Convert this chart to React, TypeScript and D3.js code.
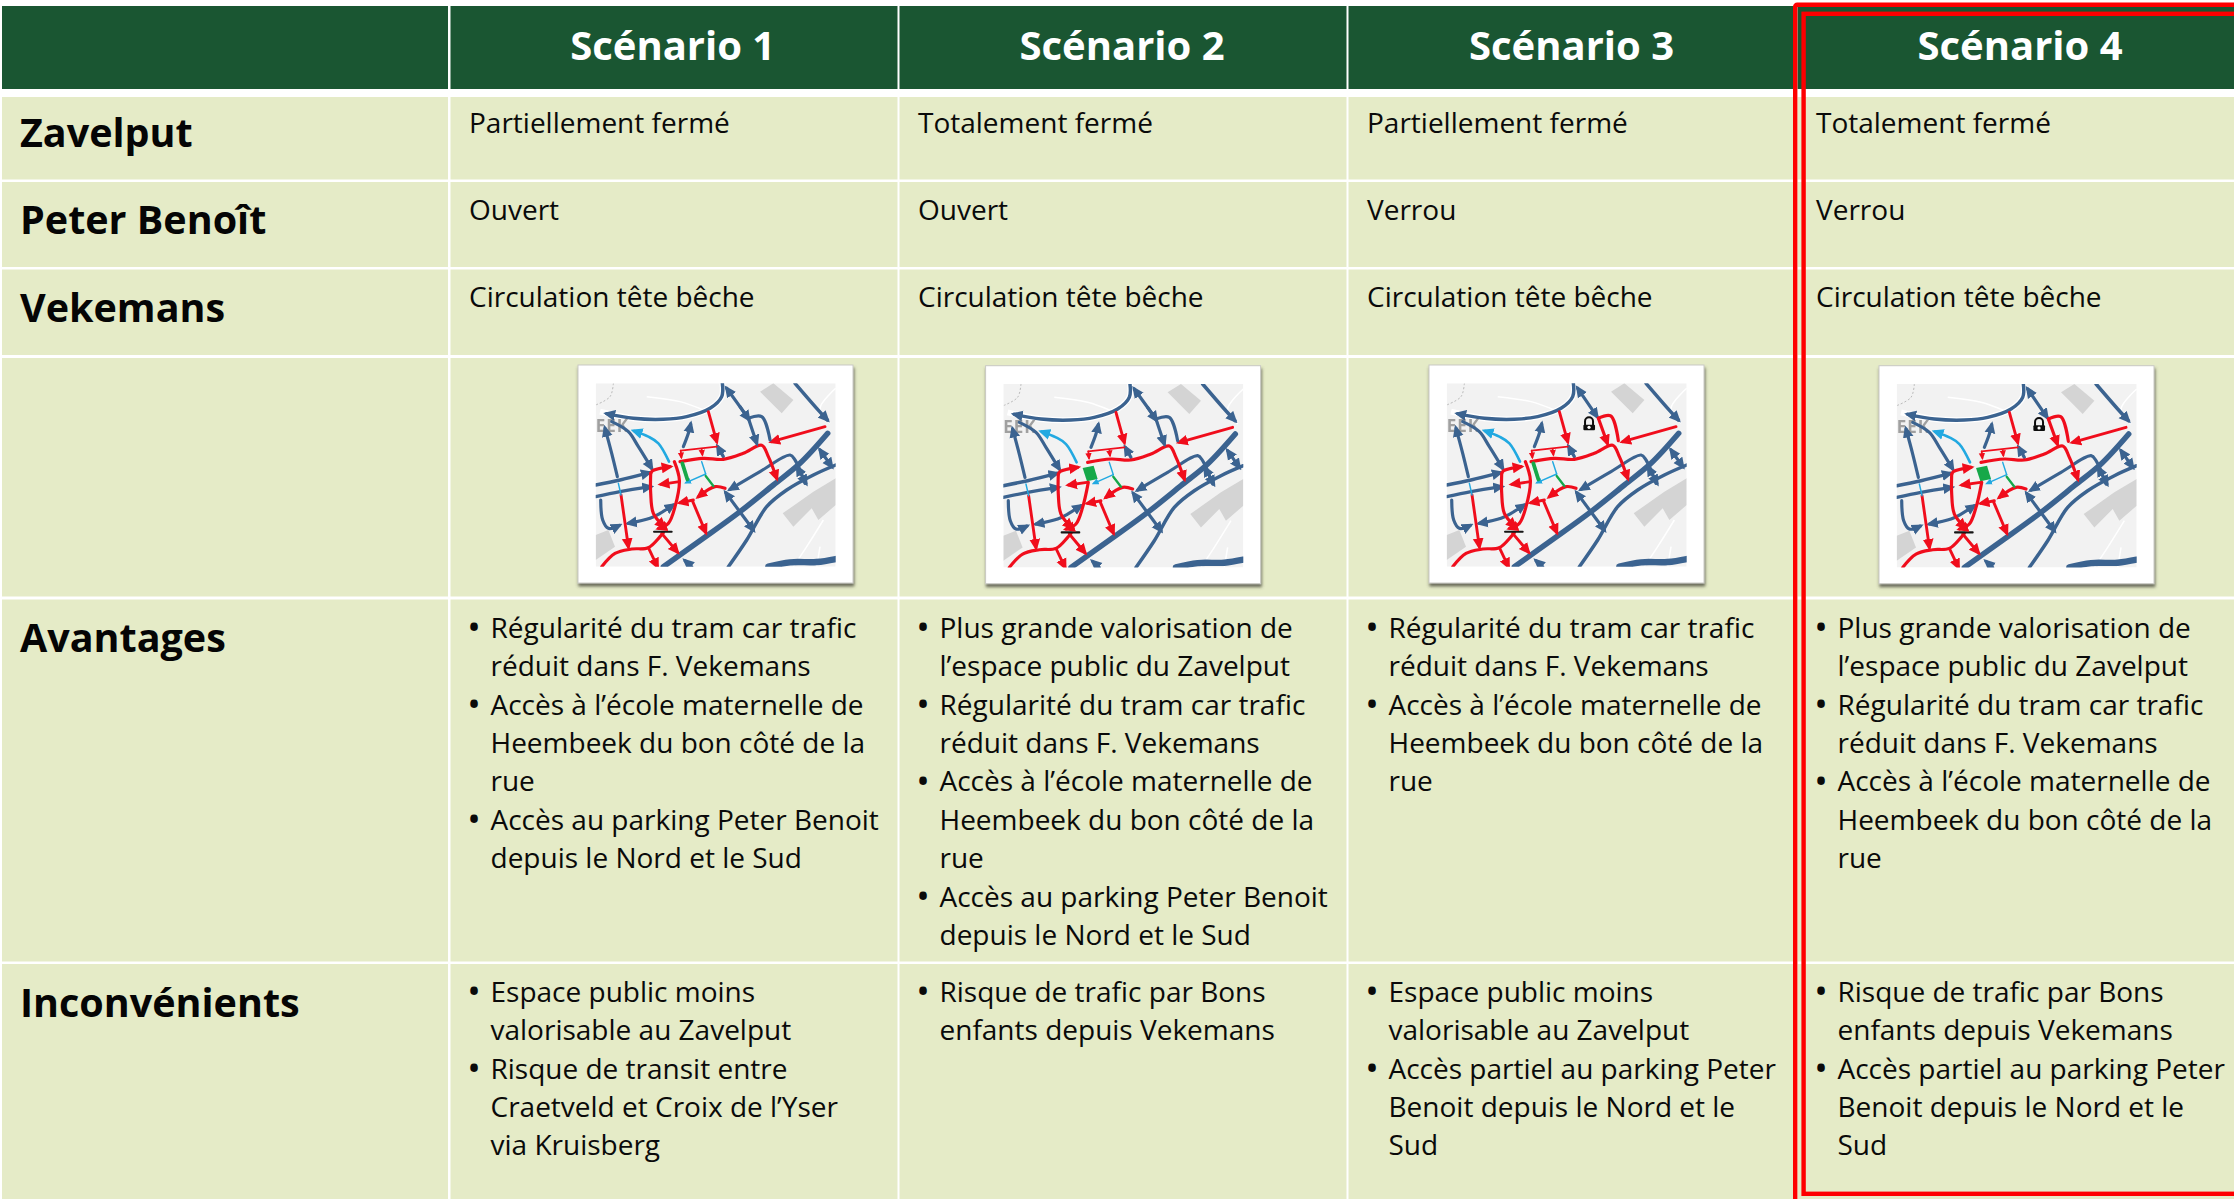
import React from 'react';
import * as d3 from 'd3';

// table content
const scenarios = ['Scénario 1', 'Scénario 2', 'Scénario 3', 'Scénario 4'];
const rowLabels = ['Zavelput', 'Peter Benoît', 'Vekemans'];
const zavelput = ['Partiellement fermé', 'Totalement fermé', 'Partiellement fermé', 'Totalement fermé'];
const peterBenoit = ['Ouvert', 'Ouvert', 'Verrou', 'Verrou'];
const vekemans = ['Circulation tête bêche', 'Circulation tête bêche', 'Circulation tête bêche', 'Circulation tête bêche'];

const regulariteTram = ['Régularité du tram car trafic', 'réduit dans F. Vekemans'];
const accesEcole = ['Accès à l’école maternelle de', 'Heembeek du bon côté de la', 'rue'];
const accesParking = ['Accès au parking Peter Benoit', 'depuis le Nord et le Sud'];
const valorisation = ['Plus grande valorisation de', 'l’espace public du Zavelput'];
const avantages = [
  [regulariteTram, accesEcole, accesParking],
  [valorisation, regulariteTram, accesEcole, accesParking],
  [regulariteTram, accesEcole],
  [valorisation, regulariteTram, accesEcole],
];

const espaceMoins = ['Espace public moins', 'valorisable au Zavelput'];
const risqueBons = ['Risque de trafic par Bons', 'enfants depuis Vekemans'];
const partielParking = ['Accès partiel au parking Peter', 'Benoit depuis le Nord et le', 'Sud'];
const inconvenients = [
  [espaceMoins, ['Risque de transit entre', 'Craetveld et Croix de l’Yser', 'via Kruisberg']],
  [risqueBons],
  [espaceMoins, partielParking],
  [risqueBons, partielParking],
];

// map roads: [colour, width, arrow at start, arrow at end, points]
type Road = [string, number, boolean, boolean, [number, number][]];
const greyBlocks: [number, number][][] = [
  [[600, 125], [640, 100], [700, 150], [665, 190]],
  [[668, 490], [760, 425], [827, 385], [827, 465], [775, 510], [755, 475], [700, 530]],
  [[107, 555], [145, 540], [165, 590], [107, 630]],
];
const whiteRoads: [number, number][][] = [
  [[487, 100], [485, 140], [450, 175], [380, 200], [310, 208], [220, 205], [120, 185]],
  [[827, 115], [780, 175], [810, 220]],
  [[260, 140], [360, 155], [430, 180]],
  [[700, 650], [740, 590], [790, 510]],
  [[770, 650], [780, 590]],
];
const sharedRoads: Road[] = [
  ['blue', 3.8, false, false, [[310, 650], [430, 565], [540, 485], [640, 405], [720, 340], [803, 250]]],
  ['blue', 2.4, false, true, [[487, 100], [485, 140], [450, 175], [380, 200], [310, 208], [220, 205], [140, 191]]],
  ['blue', 2.4, false, true, [[705, 100], [770, 175], [802, 210]]],
  ['blue', 2.4, false, true, [[107, 405], [180, 390], [268, 368]]],
  ['blue', 2.2, false, true, [[107, 440], [180, 425], [272, 410]]],
  ['blue', 2.2, false, true, [[122, 450], [128, 510], [145, 535], [178, 526]]],
  ['blue', 2.2, true, true, [[205, 520], [270, 505], [300, 490], [340, 465]]],
  ['blue', 2.2, false, true, [[172, 380], [155, 310], [135, 235]]],
  ['blue', 2.2, false, true, [[155, 215], [205, 245], [235, 290], [275, 355]]],
  ['blue', 2.2, false, true, [[370, 290], [385, 250], [392, 222]]],
  ['blue', 2.2, true, false, [[510, 418], [600, 365], [690, 315], [705, 330], [735, 400]]],
  ['blue', 2.2, true, true, [[497, 428], [580, 540]]],
  ['blue', 2.4, false, false, [[505, 650], [560, 570], [620, 470], [680, 420], [760, 375], [827, 345]]],
  ['blue', 2.2, true, true, [[780, 300], [815, 350]]],
  ['blue', 2, true, true, [[712, 352], [738, 400]]],
  ['blue', 2.2, false, true, [[395, 650], [375, 632]]],
  ['blue', 2.2, false, true, [[490, 320], [473, 290]]],
  ['blue', 4.4, false, false, [[625, 650], [690, 637], [770, 636], [827, 627]]],
  ['red', 2, false, true, [[445, 185], [470, 275]]],
  ['red', 2, false, true, [[795, 230], [635, 275]]],
  ['red', 2.2, false, true, [[360, 335], [430, 325], [490, 328], [550, 310], [605, 286], [625, 320], [650, 385]]],
  ['red', 1.2, false, false, [[362, 302], [470, 290]]],
  ['red', 1.2, false, true, [[362, 302], [364, 322]]],
  ['red', 1.2, false, true, [[425, 298], [427, 314]]],
  ['red', 2, false, true, [[358, 395], [303, 403]]],
  ['red', 2.2, false, true, [[272, 370], [278, 362], [330, 350]]],
  ['red', 2.2, false, true, [[272, 370], [272, 430], [280, 490], [312, 530]]],
  ['red', 2, false, true, [[183, 435], [205, 590]]],
  ['red', 2.2, false, false, [[125, 650], [165, 610], [215, 597], [265, 593], [300, 560], [310, 548]]],
  ['red', 2, false, true, [[265, 593], [292, 650]]],
  ['red', 2, false, true, [[305, 550], [352, 606]]],
  ['red', 2.2, false, true, [[495, 415], [465, 410], [415, 440]]],
  ['red', 2, false, true, [[400, 450], [360, 458]]],
  ['red', 2, false, true, [[397, 452], [437, 547]]],
  ['sky', 1.8, false, true, [[327, 335], [295, 280], [265, 260], [222, 243]]],
  ['sky', 1, false, false, [[425, 335], [437, 372]]],
  ['sky', 1, false, true, [[437, 372], [378, 398]]],
  ['sky', 1, false, false, [[175, 400], [183, 435]]],
  ['green', 1.6, false, false, [[437, 378], [460, 408]]],
  ['black', 1.4, false, false, [[282, 545], [335, 545]]],
];
const openLinkRoads: Road[] = [
  ['blue', 2.2, true, false, [[500, 115], [565, 205]]],
  ['blue', 2.2, false, true, [[565, 205], [590, 280]]],
  ['blue', 2.2, false, true, [[540, 170], [566, 208]]],
  ['blue', 2.2, false, false, [[565, 205], [605, 200], [630, 270]]],
];
const lockedLinkRoads: Road[] = [
  ['blue', 2.2, true, true, [[500, 115], [558, 200]]],
  ['red', 2.2, false, false, [[562, 205], [599, 198], [622, 272]]],
  ['red', 2.2, false, true, [[562, 205], [589, 280]]],
];
const partialClosureRoads: Road[] = [
  ['red', 2.2, false, true, [[343, 335], [358, 390], [345, 470], [325, 520], [296, 535]]],
  ['green', 2.6, false, false, [[367, 340], [382, 388]]],
];
const totalClosureRoads: Road[] = [
  ['red', 2.2, false, true, [[362, 395], [345, 470], [325, 520], [296, 535]]],
];
const closureSquare: [number, number][] = [[345, 352], [378, 345], [390, 385], [358, 392]];
const hasLock = [false, false, true, true];
const hasSquare = [false, true, false, true];

const colours: Record<string, string> = { blue: '#3b6390', red: '#f0101e', sky: '#22a9e1', green: '#12a84a', black: '#151515' };
const GREEN_DARK = '#1a5632';
const CELL = '#e5ebc7';
const FONT = '"Open Sans", sans-serif';

const W = 2234;
const H = 1199;
const column = d3.scaleBand<string>().domain(scenarios).range([450, 450 + 449 * 4]);
const rowEdges = [[97, 179.5], [182, 267], [269.5, 355], [358, 596.5], [599.5, 961.5], [964, 1210]];
const labelBaselines = [146.7, 234, 321.7];
const plainBaselines = [132.8, 220, 307.2];
const lineStep = 38.4;
const mapLeft = [595.7, 1003.3, 1446.7, 1896.7];
const mapTop = [383.3, 384, 383.3, 384];
const mapW = 240;
const mapH = 183.4;
const strokeBoost = 1.45;

const mx = d3.scaleLinear().domain([107, 827]).range([0, mapW]);
const my = d3.scaleLinear().domain([100, 650]).range([0, mapH]);
const roadLine = d3.line<[number, number]>()
  .x(d => mx(d[0]))
  .y(d => my(d[1]))
  .curve(d3.curveCatmullRom.alpha(0.5));
const polygon = d3.line<[number, number]>().x(d => mx(d[0])).y(d => my(d[1])).curve(d3.curveLinearClosed);

function RoadPath({ road }: { road: Road }) {
  const [c, w, start, end, pts] = road;
  const marker = w >= 3 ? 'big' : w < 1.5 ? 'small' : 'mid';
  return (
    <path
      d={roadLine(pts) as string}
      fill="none"
      stroke={colours[c]}
      strokeWidth={w * strokeBoost}
      strokeLinecap="round"
      markerStart={start ? `url(#arrow-${c}-${marker})` : undefined}
      markerEnd={end ? `url(#arrow-${c}-${marker})` : undefined}
    />
  );
}

function MapThumb({ index }: { index: number }) {
  const roads = [
    ...sharedRoads,
    ...(hasLock[index] ? lockedLinkRoads : openLinkRoads),
    ...(hasSquare[index] ? totalClosureRoads : partialClosureRoads),
  ];
  return (
    <g transform={`translate(${mapLeft[index]},${mapTop[index]})`}>
      <rect x={-17.7} y={-18.3} width={275} height={218} fill="#fff" stroke="#c9c9c4" strokeWidth={1} filter="url(#frameShadow)" />
      <g clipPath="url(#mapClip)">
        <g filter="url(#soft)">
          <rect width={mapW} height={mapH} fill="#f2f2f2" />
          {greyBlocks.map((b, i) => <path key={i} d={polygon(b) as string} fill="#d4d4d4" />)}
          {whiteRoads.map((r, i) => <path key={i} d={roadLine(r) as string} fill="none" stroke="#fff" strokeWidth={i === 0 ? 6 : 1.5} />)}
          <path d={roadLine([[160, 100], [150, 140], [107, 165]]) as string} fill="none" stroke="#bbb" strokeWidth={1} strokeDasharray="2 2" />
          <text x={mx(107)} y={my(246)} fontFamily={FONT} fontWeight={700} fontSize={17} fill="#a0a0a0" letterSpacing={1}>EEK</text>
          {hasSquare[index] && <path d={polygon(closureSquare) as string} fill={colours.green} />}
          {roads.map((r, i) => <RoadPath key={i} road={r} />)}
          {hasLock[index] && (
            <g>
              <path d={`M${mx(522)},${my(226)}V${my(214)}a${mx(119)},${mx(119)} 0 0 1 ${mx(131)},0V${my(226)}`} fill="none" stroke="#111" strokeWidth={2} />
              <rect x={mx(517)} y={my(224)} width={mx(142)} height={my(117)} rx={1} fill="#111" />
              <circle cx={mx(534)} cy={my(232)} r={1.6} fill="#fff" />
            </g>
          )}
        </g>
      </g>
    </g>
  );
}

export default function App() {
  const bands = scenarios.map(s => column(s) as number);
  const markerSizes: [string, number][] = [['small', 7], ['mid', 12], ['big', 18]];
  return (
    <svg width={W} height={H} viewBox={`0 0 ${W} ${H}`} style={{ position: 'absolute', left: 0, top: 0, display: 'block', background: '#fff' }}>
      <defs>
        <clipPath id="mapClip"><rect width={mapW} height={mapH} /></clipPath>
        <filter id="soft" x="-5%" y="-5%" width="110%" height="110%"><feGaussianBlur stdDeviation="0.55" /></filter>
        <filter id="frameShadow" x="-5%" y="-5%" width="110%" height="112%">
          <feDropShadow dx="0.8" dy="3" stdDeviation="1.8" floodColor="#4a4a40" floodOpacity="0.8" />
        </filter>
        {Object.keys(colours).flatMap(c => markerSizes.map(([name, size]) => (
          <marker key={c + name} id={`arrow-${c}-${name}`} viewBox="0 0 10 10" refX={7} refY={5} markerUnits="userSpaceOnUse" markerWidth={size} markerHeight={size} orient="auto-start-reverse">
            <path d="M0,0.5L10,5L0,9.5Z" fill={colours[c]} />
          </marker>
        )))}
      </defs>

      {/* header */}
      <rect x={2} y={6} width={446} height={83} fill={GREEN_DARK} />
      {scenarios.map((s, i) => (
        <g key={s}>
          <rect x={bands[i] + 0.5} y={6} width={column.bandwidth() - 2} height={83} fill={GREEN_DARK} />
          <text x={[672.7, 1122, 1571.5, 2020][i]} y={60} textAnchor="middle" fontFamily={FONT} fontWeight={700} fontSize={40} fill="#fff">{s}</text>
        </g>
      ))}

      {/* cells */}
      {rowEdges.map(([y0, y1], r) => (
        <g key={r}>
          <rect x={2} y={y0} width={446} height={y1 - y0} fill={CELL} />
          {bands.map(b => <rect key={b} x={b + 0.5} y={y0} width={column.bandwidth() - 2} height={y1 - y0} fill={CELL} />)}
        </g>
      ))}

      {/* row labels */}
      {rowLabels.map((l, i) => (
        <text key={l} x={20} y={labelBaselines[i]} fontFamily={FONT} fontWeight={700} fontSize={39.5} fill="#050505">{l}</text>
      ))}
      <text x={20} y={651.5} fontFamily={FONT} fontWeight={700} fontSize={39.5} fill="#050505">Avantages</text>
      <text x={20} y={1016.5} fontFamily={FONT} fontWeight={700} fontSize={39.5} fill="#050505">Inconvénients</text>

      {/* short rows */}
      {[zavelput, peterBenoit, vekemans].map((row, r) => row.map((t, i) => (
        <text key={`${r}-${i}`} x={bands[i] + 19} y={plainBaselines[r]} fontFamily={FONT} fontSize={28} fill="#0a0a0a">{t}</text>
      )))}

      {scenarios.map((s, i) => <MapThumb key={s} index={i} />)}

      {/* bullet rows */}
      {[[avantages, 637.7], [inconvenients, 1001.8]].map(([rows, top]: any) => (rows as string[][][]).map((bullets, i) => {
        let n = 0;
        return (
          <g key={`${top}-${i}`} fontFamily={FONT} fontSize={28} fill="#0a0a0a">
            {bullets.map((lines, b) => {
              const first = n;
              n += lines.length;
              return (
                <g key={b}>
                  <text x={bands[i] + 24} y={top + first * lineStep + 2.5} textAnchor="middle" fontSize={36}>•</text>
                  {lines.map((l, k) => <text key={k} x={bands[i] + 40.5} y={top + (first + k) * lineStep}>{l}</text>)}
                </g>
              );
            })}
          </g>
        );
      }))}

      {/* highlight around scenario 4 */}
      <rect x={1795.2} y={4.7} width={500} height={1300} rx={2} fill="none" stroke="#fe0000" strokeWidth={4.4} />
      <rect x={1803.6} y={13.8} width={500} height={1180} fill="none" stroke="#fe0000" strokeWidth={4.4} />
    </svg>
  );
}
